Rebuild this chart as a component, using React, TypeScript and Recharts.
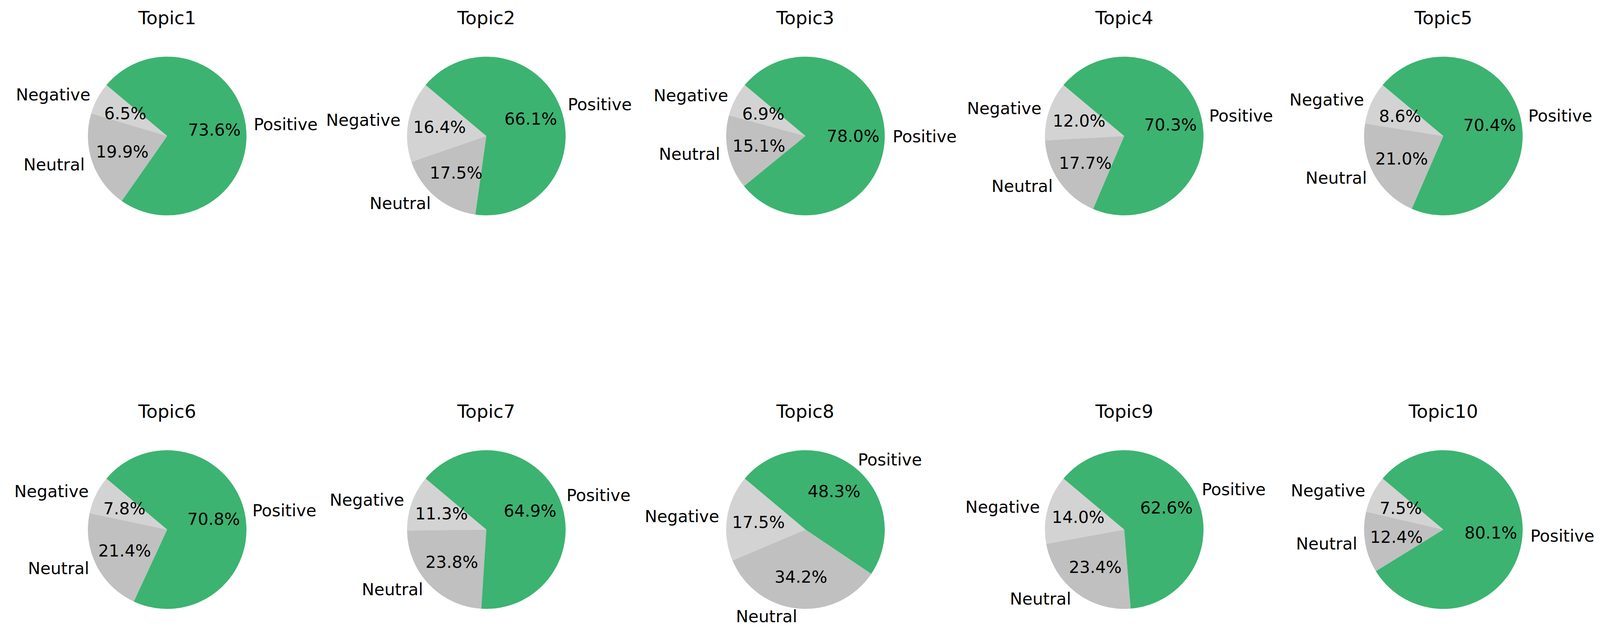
import { Cell, Pie, PieChart } from 'recharts';

const topics = ['Topic1', 'Topic2', 'Topic3', 'Topic4', 'Topic5', 'Topic6', 'Topic7', 'Topic8', 'Topic9', 'Topic10'];
const sentiments = ['Negative', 'Neutral', 'Positive'];
const negative = [6.5, 16.4, 6.9, 12.0, 8.6, 7.8, 11.3, 17.5, 14.0, 7.5];
const neutral = [19.9, 17.5, 15.1, 17.7, 21.0, 21.4, 23.8, 34.2, 23.4, 12.4];
const positive = [73.6, 66.1, 78.0, 70.3, 70.4, 70.8, 64.9, 48.3, 62.6, 80.1];

const sliceColor = ['#d3d3d3', '#c0c0c0', '#3cb371'];

const FONT = "'DejaVu Sans', sans-serif";
const RAD = Math.PI / 180;
const CELL_W = 866;
const ROW_H = 806;
const RADIUS = 203;
const rowPieY = [348, 549];

// the page may be narrower than 4301, so spread the columns over what is there
const pageW = Math.min(4301, window.innerWidth || 4301);
const colGap = (pageW - 829) / 4;
const colX = (i: number) => 428 + i * colGap;

function renderLabel(props: any) {
  const { cx, cy, midAngle, outerRadius, percent, name } = props;
  const cos = Math.cos(-midAngle * RAD);
  const sin = Math.sin(-midAngle * RAD);
  const px = cx + outerRadius * 0.6 * cos;
  const py = cy + outerRadius * 0.6 * sin;
  const lx = cx + outerRadius * 1.1 * cos;
  const ly = cy + outerRadius * 1.1 * sin;
  return (
    <g>
      <text x={px} y={py} textAnchor="middle" dominantBaseline="central" fontSize={42.5} fontFamily={FONT} fill="#000">
        {`${(percent * 100).toFixed(1)}%`}
      </text>
      <text x={lx} y={ly} textAnchor={cos >= 0 ? 'start' : 'end'} dominantBaseline="central" fontSize={42.5} fontFamily={FONT} fill="#000">
        {name}
      </text>
    </g>
  );
}

function TopicPie({ index }: { index: number }) {
  const row = Math.floor(index / 5);
  const col = index % 5;
  const data = sentiments.map((name, k) => ({
    name,
    value: [negative, neutral, positive][k][index],
  }));
  const left = colX(col) - CELL_W / 2;
  const top = row * ROW_H;
  return (
    <div style={{ position: 'absolute', left, top, width: CELL_W, height: ROW_H }}>
      <div
        style={{
          position: 'absolute',
          left: 0,
          width: CELL_W,
          top: rowPieY[row] - 302 - 30,
          height: 60,
          lineHeight: '60px',
          textAlign: 'center',
          fontFamily: FONT,
          fontSize: 47,
          color: '#000',
        }}
      >
        {topics[index]}
      </div>
      <PieChart width={CELL_W} height={ROW_H} margin={{ top: 0, right: 0, bottom: 0, left: 0 }}>
        <Pie
          data={data}
          dataKey="value"
          nameKey="name"
          cx={CELL_W / 2}
          cy={rowPieY[row]}
          outerRadius={RADIUS}
          startAngle={140}
          endAngle={500}
          stroke="none"
          label={renderLabel}
          labelLine={false}
          isAnimationActive={false}
        >
          {data.map((d, k) => (
            <Cell key={d.name} fill={sliceColor[k]} />
          ))}
        </Pie>
      </PieChart>
    </div>
  );
}

export default function App() {
  return (
    <div style={{ position: 'absolute', left: 0, top: 0, width: pageW, height: 1612, background: '#fff', overflow: 'hidden' }}>
      {topics.map((t, i) => (
        <TopicPie key={t} index={i} />
      ))}
    </div>
  );
}
